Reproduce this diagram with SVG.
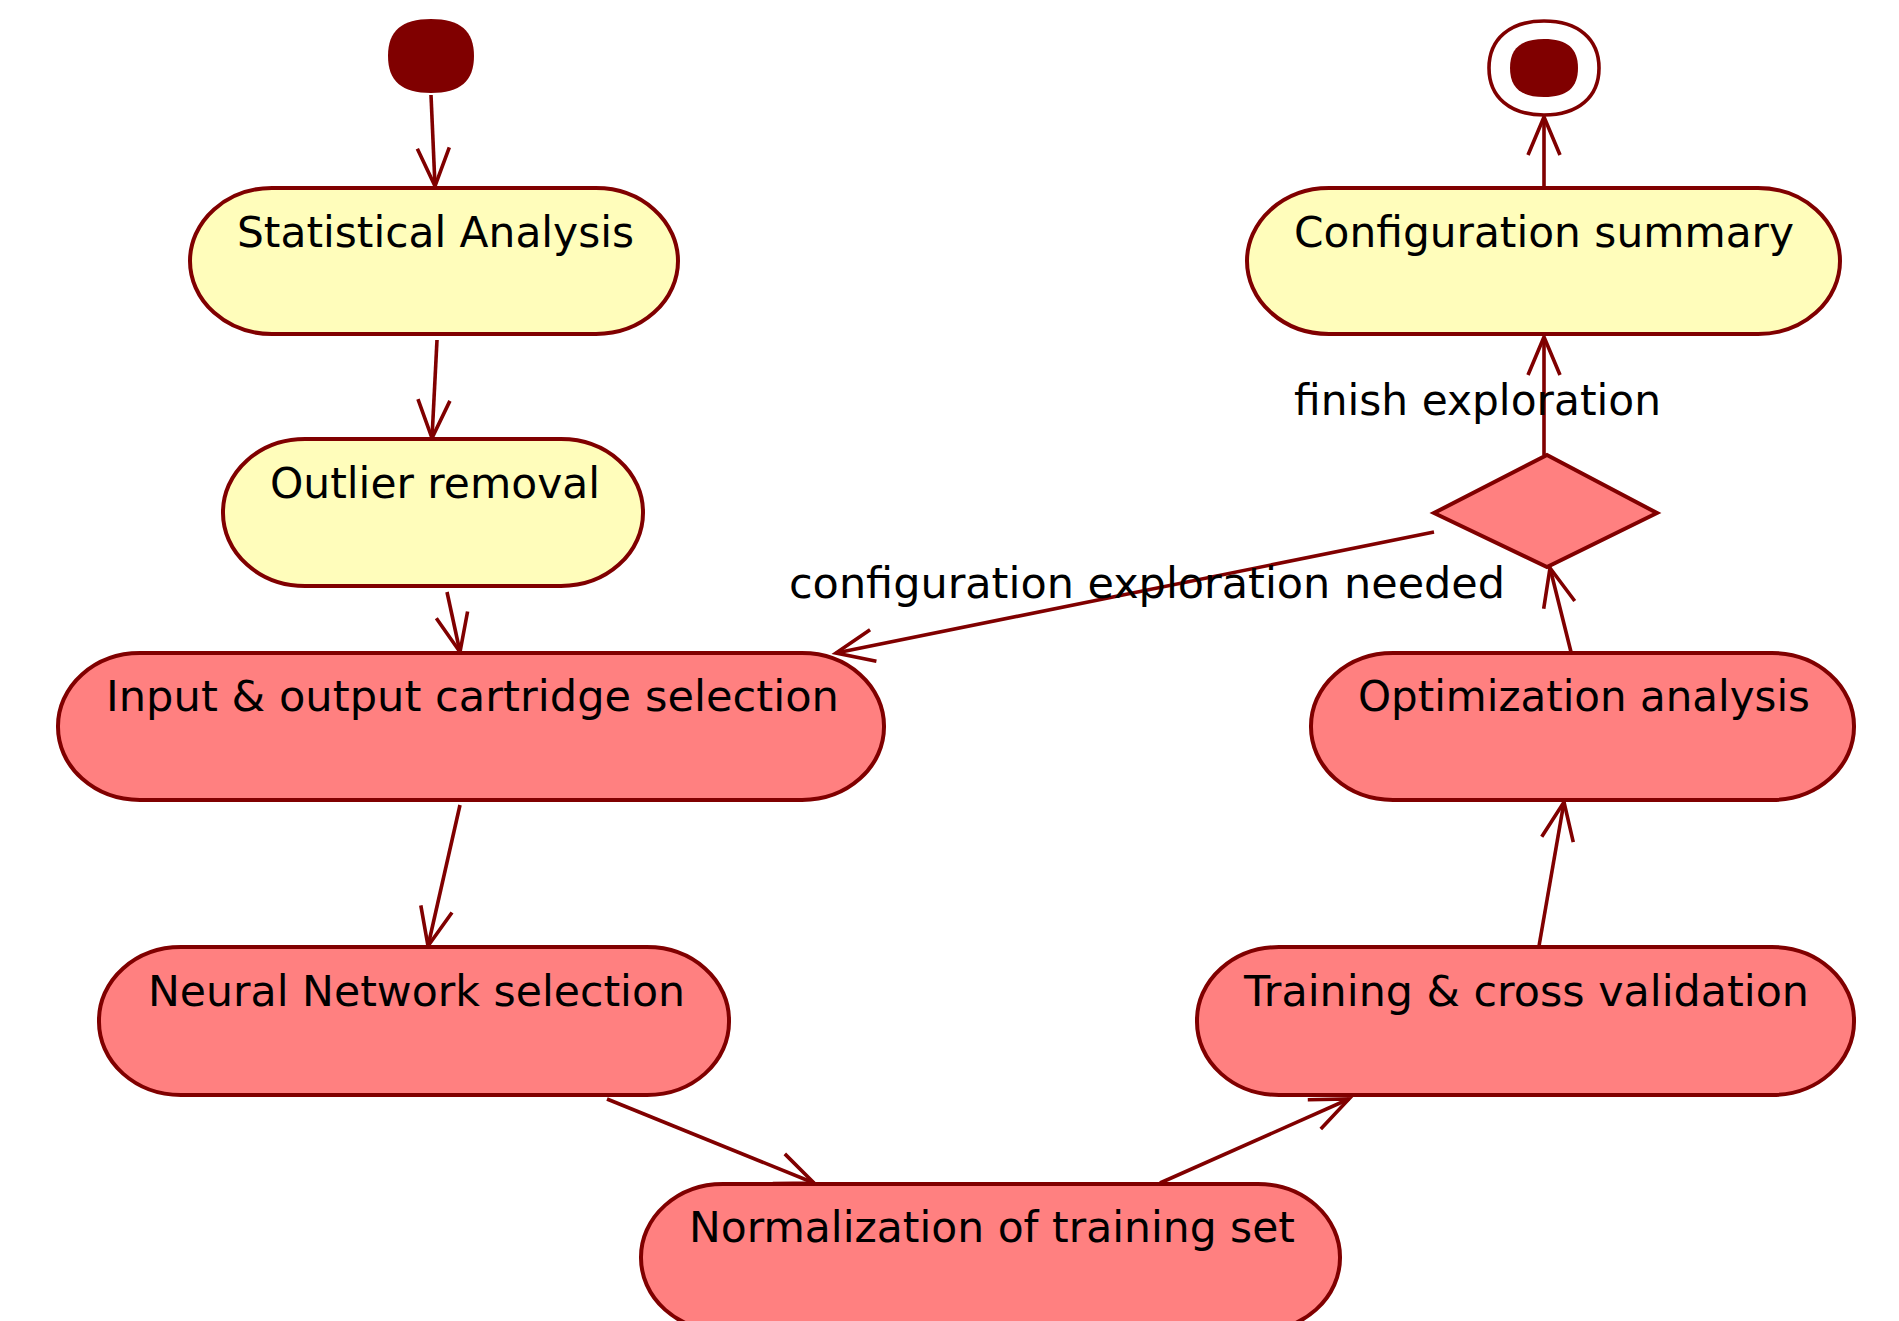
<svg xmlns="http://www.w3.org/2000/svg" width="1899" height="1321" viewBox="0 0 1899 1321">
<defs>
<style>
.act{stroke:#800000;stroke-width:4}
.y{fill:#FFFDBB}
.r{fill:#FF8080}
.t{font-family:"DejaVu Sans",sans-serif;font-size:43px;fill:#000}
.c{stroke:#800000;stroke-width:3.6;fill:none}
</style>
<marker id="ah" markerUnits="userSpaceOnUse" markerWidth="60" markerHeight="60" refX="0" refY="0" orient="auto" overflow="visible">
<path d="M-38,-16 L0,0 L-38,16" fill="none" stroke="#800000" stroke-width="3.6"/>
</marker>
</defs>
<rect width="1899" height="1321" fill="#fff"/>

<g id="connectors">
<line class="c" x1="431" y1="95" x2="435" y2="186" marker-end="url(#ah)"/>
<line class="c" x1="437" y1="340" x2="432" y2="438" marker-end="url(#ah)"/>
<line class="c" x1="447" y1="592" x2="460" y2="652" marker-end="url(#ah)"/>
<line class="c" x1="460" y1="805" x2="428" y2="946" marker-end="url(#ah)"/>
<line class="c" x1="607" y1="1099" x2="814" y2="1183" marker-end="url(#ah)"/>
<line class="c" x1="1160" y1="1183" x2="1349" y2="1099" marker-end="url(#ah)"/>
<line class="c" x1="1539" y1="946" x2="1564" y2="802" marker-end="url(#ah)"/>
<line class="c" x1="1571" y1="652" x2="1550" y2="568" marker-end="url(#ah)"/>
<line class="c" x1="1544" y1="455" x2="1544" y2="337" marker-end="url(#ah)"/>
<line class="c" x1="1544" y1="187" x2="1544" y2="117" marker-end="url(#ah)"/>
<line class="c" x1="1434" y1="532" x2="836" y2="653" marker-end="url(#ah)"/>
<text class="t" x="1294" y="415" textLength="367" lengthAdjust="spacingAndGlyphs">finish exploration</text>
<text class="t" x="789" y="598" textLength="716" lengthAdjust="spacingAndGlyphs">configuration exploration needed</text>
</g>

<g id="start">
<path d="M431,19 C460.2,19 474,30.8 474,56 C474,81.2 460.2,93 431,93 C401.8,93 388,81.2 388,56 C388,30.8 401.8,19 431,19 Z" fill="#800000"/>
</g>

<g id="end">
<path d="M1544,21 C1578.1,21 1599,38.9 1599,68 C1599,97.1 1578.1,115 1544,115 C1509.9,115 1489,97.1 1489,68 C1489,38.9 1509.9,21 1544,21 Z" fill="#fff" stroke="#800000" stroke-width="3.6"/>
<path d="M1544,39 C1567.1,39 1578,48.3 1578,68 C1578,87.7 1567.1,97 1544,97 C1520.9,97 1510,87.7 1510,68 C1510,48.3 1520.9,39 1544,39 Z" fill="#800000"/>
</g>

<g id="statistical-analysis">
<rect class="act y" x="190" y="188" width="488" height="146" rx="82" ry="73"/>
<text class="t" x="237" y="247" textLength="397" lengthAdjust="spacingAndGlyphs">Statistical Analysis</text>
</g>

<g id="outlier-removal">
<rect class="act y" x="223" y="439" width="420" height="147" rx="82" ry="73"/>
<text class="t" x="270" y="498" textLength="330" lengthAdjust="spacingAndGlyphs">Outlier removal</text>
</g>

<g id="cartridge-selection">
<rect class="act r" x="58" y="653" width="826" height="147" rx="82" ry="73"/>
<text class="t" x="106" y="711" textLength="733" lengthAdjust="spacingAndGlyphs">Input &amp; output cartridge selection</text>
</g>

<g id="nn-selection">
<rect class="act r" x="99" y="947" width="630" height="148" rx="82" ry="73"/>
<text class="t" x="148" y="1006" textLength="537" lengthAdjust="spacingAndGlyphs">Neural Network selection</text>
</g>

<g id="normalization">
<rect class="act r" x="641" y="1184" width="699" height="147" rx="82" ry="73"/>
<text class="t" x="689" y="1242" textLength="606" lengthAdjust="spacingAndGlyphs">Normalization of training set</text>
</g>

<g id="training">
<rect class="act r" x="1197" y="947" width="657" height="148" rx="82" ry="73"/>
<text class="t" x="1244" y="1006" textLength="565" lengthAdjust="spacingAndGlyphs">Training &amp; cross validation</text>
</g>

<g id="optimization">
<rect class="act r" x="1311" y="653" width="543" height="147" rx="82" ry="73"/>
<text class="t" x="1358" y="711" textLength="452" lengthAdjust="spacingAndGlyphs">Optimization analysis</text>
</g>

<g id="decision">
<polygon class="act r" points="1547,455 1657,513 1547,567 1434,513"/>
</g>

<g id="configuration-summary">
<rect class="act y" x="1247" y="188" width="593" height="146" rx="82" ry="73"/>
<text class="t" x="1294" y="247" textLength="500" lengthAdjust="spacingAndGlyphs">Configuration summary</text>
</g>
</svg>
